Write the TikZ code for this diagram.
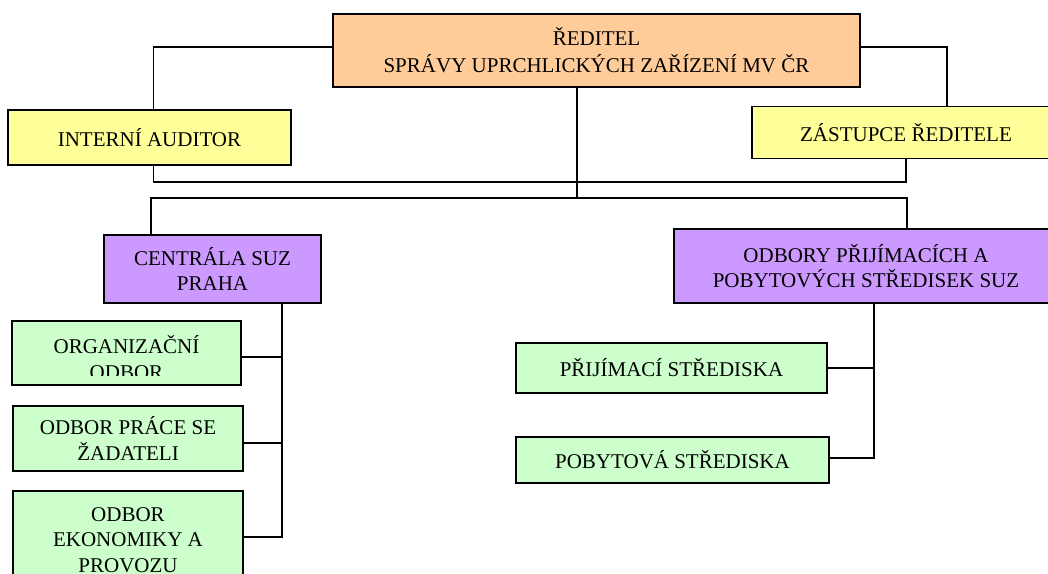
\documentclass[tikz,border=0pt]{standalone}
\usepackage{fontspec}
\setmainfont{Liberation Serif}
\definecolor{peach}{HTML}{FFCC99}
\definecolor{paleyellow}{HTML}{FFFF99}
\definecolor{lilac}{HTML}{CC99FF}
\definecolor{palegreen}{HTML}{CCFFCC}
\begin{document}
\begin{tikzpicture}[x=1pt, y=-1pt, line width=1.8pt,
	box/.style={draw, line width=1.8pt, rectangle, inner sep=0pt, align=center,
		font=\fontsize{21}{25.5}\selectfont},
	boxtext/.style={inner sep=0pt, align=center, font=\fontsize{21}{25.5}\selectfont},
	headbox/.style={box, fill=peach},
	sidebox/.style={box, fill=paleyellow},
	unitbox/.style={box, fill=lilac},
	deptbox/.style={box, fill=palegreen}]
		\useasboundingbox (0,0) rectangle (1048,573);
		\clip (0,0) rectangle (1048,573);
		% top level
		\node[headbox, minimum width=527pt, minimum height=73pt, font=\fontsize{21}{27}\selectfont] (reditel) at (596.5,50.5) {ŘEDITEL\\SPRÁVY UPRCHLICKÝCH ZAŘÍZENÍ MV ČR};
		\node[sidebox, minimum width=283pt, minimum height=55pt] (auditor) at (149.5,137.5) {INTERNÍ AUDITOR};
		\node[sidebox, minimum width=308pt, minimum height=52pt] (zastupce) at (906,132.5) {ZÁSTUPCE ŘEDITELE};
		% second level
		\node[unitbox, minimum width=217pt, minimum height=68pt] (centrala) at (212.5,269) {CENTRÁLA SUZ\\PRAHA};
		\node[unitbox, minimum width=384pt, minimum height=74pt] (odbory) at (866,266) {ODBORY PŘIJÍMACÍCH A\\POBYTOVÝCH STŘEDISEK SUZ};
		% departments of the centre
		\node[deptbox, minimum width=229pt, minimum height=64pt] (org) at (126.5,353) {};
		\begin{scope}
		\clip ([shift={(2pt,-2pt)}]org.north west) rectangle ([yshift=10pt]org.south east);
		\node[boxtext] (orgtext) at ([yshift=-4.5pt]org.center) {ORGANIZAČNÍ\\ODBOR};
		\end{scope}
		\node[deptbox, minimum width=230pt, minimum height=65pt] (zadatel) at (128,438.5) {ODBOR PRÁCE SE\\ŽADATELI};
		\node[deptbox, minimum width=230pt, minimum height=98pt] (ekonomika) at (128,540) {ODBOR\\EKONOMIKY A\\PROVOZU};
		% facilities
		\node[deptbox, minimum width=311pt, minimum height=50pt] (prijimaci) at (671.5,368) {PŘIJÍMACÍ STŘEDISKA};
		\node[deptbox, minimum width=313pt, minimum height=46pt] (pobytova) at (672.5,460) {POBYTOVÁ STŘEDISKA};
		% connectors
		\coordinate (busA) at (0,182);
		\coordinate (busB) at (0,198);
		\coordinate (cs) at ([xshift=179pt]centrala.south west);
		\coordinate (os) at ([xshift=201pt]odbory.south west);
		\draw ([yshift=3.5pt]reditel.west) -| ([xshift=4pt]auditor.north);
		\draw ([yshift=3.5pt]reditel.east) -| ([xshift=196pt]zastupce.north west);
		\draw ([xshift=4pt]auditor.south) |- ([xshift=155pt]zastupce.south west |- busA) -- ([xshift=155pt]zastupce.south west);
		\draw ([xshift=-19.5pt]reditel.south) -- ([xshift=-19.5pt]reditel.south |- busB);
		\draw ([xshift=48pt]centrala.north west) |- ([xshift=234pt]odbory.north west |- busB) -- ([xshift=234pt]odbory.north west);
		\draw (cs) |- ([yshift=3pt]ekonomika.east);
		\draw ([yshift=-4pt]org.east) -- ([yshift=-4pt]org.east -| cs);
		\draw ([yshift=-4.5pt]zadatel.east) -- ([yshift=-4.5pt]zadatel.east -| cs);
		\draw (os) |- ([yshift=2pt]pobytova.east);
		\draw (prijimaci.east) -- (prijimaci.east -| os);
\end{tikzpicture}
\end{document}
